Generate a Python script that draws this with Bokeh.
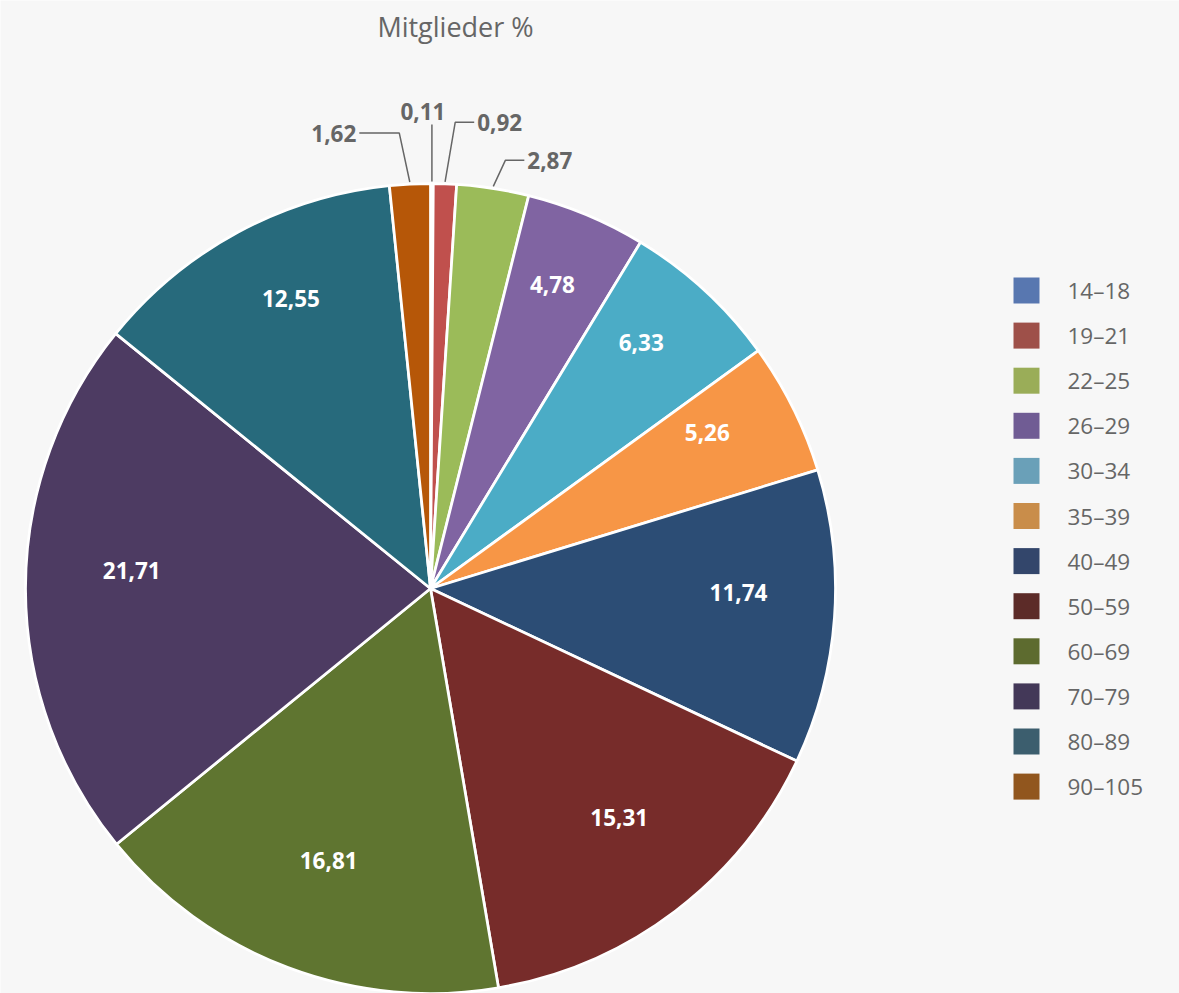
import math
from bokeh.plotting import figure
from bokeh.models import ColumnDataSource, Range1d
from bokeh.core.properties import value
from bokeh.embed import file_html
from bokeh.resources import INLINE

# ---------------- data ----------------
title_text = "Mitglieder %"
categories = ["14–18", "19–21", "22–25", "26–29", "30–34", "35–39",
              "40–49", "50–59", "60–69", "70–79", "80–89", "90–105"]
shares = [0.11, 0.92, 2.87, 4.78, 6.33, 5.26, 11.74, 15.31, 16.81, 21.71, 12.55, 1.62]
slice_colors = ["#4f81bd", "#c0504d", "#9bbb59", "#8064a2", "#4bacc6", "#f79646",
                "#2c4d75", "#772c2a", "#5f7530", "#4d3b62", "#276a7c", "#b65708"]
legend_colors = ["#5877b0", "#9e5049", "#9aad58", "#705c94", "#6aa0b8", "#c98d4a",
                 "#33466b", "#5c2b28", "#5d6b2f", "#433858", "#3c5e6e", "#91561e"]

# ---------------- layout ----------------
W, H = 1179, 993
PAGE = 0
CX, CY = 430, 588          # pie centre in page pixels
R = 405
FONT = "Open Sans"
GREY = "#666666"
BG = "#f7f7f7"
FS = "22.5px"

p = figure(width=W, height=H,
           x_range=Range1d(PAGE - CX, PAGE + W - CX),
           y_range=Range1d(CY - (PAGE + H), CY - PAGE),
           output_backend="svg", toolbar_location=None,
           x_axis_type=None, y_axis_type=None, min_border=0,
           background_fill_color=BG, border_fill_color=BG,
           outline_line_color=None)
p.grid.visible = False

total = sum(shares)
starts, ends, mids = [], [], []
cum = 0.0
for v in shares:
    f0 = cum / total
    cum += v
    f1 = cum / total
    starts.append(math.pi / 2 - 2 * math.pi * f0)
    ends.append(math.pi / 2 - 2 * math.pi * f1)
    mids.append(2 * math.pi * (f0 + f1) / 2)  # clockwise from top

label_text = [f"{v:.2f}".replace(".", ",") for v in shares]

src = ColumnDataSource(dict(start=starts, end=ends, color=slice_colors, cat=categories))
p.wedge(x=0, y=0, radius=R, start_angle="start", end_angle="end", direction="clock",
        fill_color="color", line_color="white", line_width=2.75, source=src)


def spread(targets, gap):
    """targets: list of y (data coords, descending). Returns non-overlapping ys."""
    clusters = [[t] for t in targets]
    changed = True
    while changed:
        changed = False
        for i in range(len(clusters) - 1):
            a, b = clusters[i], clusters[i + 1]
            ca, cb = sum(a) / len(a), sum(b) / len(b)
            bottom_a = ca - gap * (len(a) - 1) / 2
            top_b = cb + gap * (len(b) - 1) / 2
            if bottom_a - top_b < gap:
                clusters[i] = a + b
                del clusters[i + 1]
                changed = True
                break
    out = []
    for c in clusters:
        m = sum(c) / len(c)
        n = len(c)
        out += [m + gap * ((n - 1) / 2 - k) for k in range(n)]
    return out


# inside labels
RX_IN, RY_IN, DX_IN, DY_IN = 0.75 * R, 0.765 * R, 5, 18
in_x, in_y, in_t = [], [], []
for v, th, t in zip(shares, mids, label_text):
    if v >= 3:
        in_x.append(RX_IN * math.sin(th) + DX_IN)
        in_y.append(RY_IN * math.cos(th) + DY_IN)
        in_t.append(t)

p.text(x=in_x, y=in_y, text=in_t, text_color="white", text_font=value(FONT),
       text_font_style="bold", text_font_size=FS, text_align="center",
       text_baseline="middle")

# outside labels with connectors
D = 45
out_x, out_y, out_t, out_align = [], [], [], []
con_xs, con_ys = [], []
small = [i for i, v in enumerate(shares) if v < 3]
for side, hlen, d in ((1, 19, D), (-1, 40, D + 6)):
    idx = [i for i in small
           if abs(math.sin(mids[i])) >= 0.02 and (math.sin(mids[i]) > 0) == (side > 0)]
    idx.sort(key=lambda i: -(R + d) * math.cos(mids[i]))
    targets = [(R + d) * math.cos(mids[i]) for i in idx]
    ys = spread(targets, 38)
    for i, ky in zip(idx, ys):
        th = mids[i]
        x0, y0 = (R + 2) * math.sin(th), (R + 2) * math.cos(th)
        kx = x0 + (ky - y0) * math.tan(th) + side * 8
        ex = kx + side * hlen
        con_xs.append([x0, kx, ex])
        con_ys.append([y0, ky, ky])
        out_x.append(ex + side * 3)
        out_y.append(ky)
        out_align.append("left" if side > 0 else "right")
        out_t.append(label_text[i])
for i in small:
    th = mids[i]
    if abs(math.sin(th)) < 0.02:
        x0, y0 = (R + 2) * math.sin(th), (R + 2) * math.cos(th)
        con_xs.append([x0, x0])
        con_ys.append([y0, R + 59])
        out_x.append(x0 - 9)
        out_y.append(R + 72)
        out_align.append("center")
        out_t.append(label_text[i])

p.multi_line(xs=con_xs, ys=con_ys, line_color=GREY, line_width=1.5)
p.text(x=out_x, y=out_y, text=out_t, text_color=GREY, text_font=value(FONT),
       text_font_style="bold", text_font_size=FS, text_align=out_align,
       text_baseline="middle")

# title
p.text(x=[455 - CX], y=[CY - 26], text=[title_text], text_color=GREY,
       text_font=value(FONT), text_font_size="27px", text_align="center",
       text_baseline="middle")

# legend
lg_y = [CY - (290 + 45.1 * i) for i in range(len(categories))]
p.rect(x=[1026 - CX] * len(categories), y=lg_y, width=26, height=26,
       fill_color=legend_colors, line_color=None)
p.text(x=[1067 - CX] * len(categories), y=lg_y, text=categories, text_color=GREY,
       text_font=value(FONT), text_font_size=FS, text_align="left",
       text_baseline="middle")

open("out.html", "w").write(file_html(p, INLINE))
